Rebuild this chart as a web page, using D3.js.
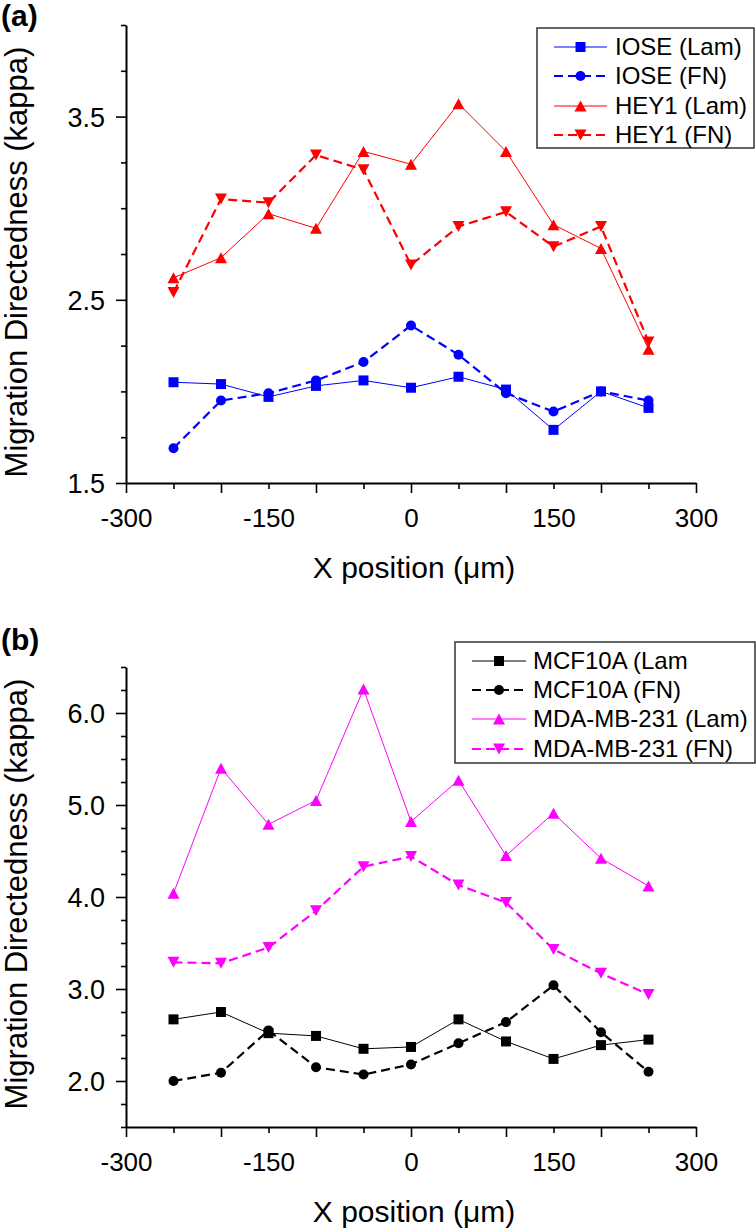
<!DOCTYPE html>
<html>
<head>
<meta charset="utf-8">
<script src="https://cdn.jsdelivr.net/npm/d3@7"></script>
<style>
  html, body { margin: 0; padding: 0; background: #fff; }
  svg { display: block; font-family: "Liberation Sans", Arial, Helvetica, sans-serif; }
</style>
</head>
<body>
<svg id="chart" width="756" height="1230"></svg>
<script>
// ---------- data ----------
const xPos = [-250, -200, -150, -100, -50, 0, 50, 100, 150, 200, 250];
const xTickValues = [-300, -250, -200, -150, -100, -50, 0, 50, 100, 150, 200, 250, 300];
const xTickLabels = [-300, -150, 0, 150, 300];

// panel (a)
const ioseLam = [2.05, 2.04, 1.97, 2.03, 2.06, 2.02, 2.08, 2.01, 1.79, 2.00, 1.91];
const ioseFN  = [1.69, 1.95, 1.99, 2.06, 2.16, 2.36, 2.20, 1.99, 1.89, 2.00, 1.95];
const hey1Lam = [2.62, 2.73, 2.97, 2.89, 3.31, 3.24, 3.57, 3.31, 2.91, 2.78, 2.23];
const hey1FN  = [2.54, 3.05, 3.03, 3.29, 3.21, 2.69, 2.90, 2.98, 2.79, 2.90, 2.27];
const aYLabels = [1.5, 2.5, 3.5];
const aSeriesNames = ["IOSE (Lam)", "IOSE (FN)", "HEY1 (Lam)", "HEY1 (FN)"];

// panel (b)
const mcfLam = [2.67, 2.75, 2.52, 2.49, 2.35, 2.37, 2.67, 2.43, 2.24, 2.39, 2.45];
const mcfFN  = [2.00, 2.09, 2.55, 2.15, 2.07, 2.18, 2.41, 2.64, 3.04, 2.53, 2.10];
const mdaLam = [4.04, 5.40, 4.79, 5.05, 6.26, 4.82, 5.27, 4.45, 4.91, 4.42, 4.12];
const mdaFN  = [3.29, 3.28, 3.45, 3.85, 4.33, 4.44, 4.13, 3.94, 3.43, 3.17, 2.94];
const bYLabels = [2.0, 3.0, 4.0, 5.0, 6.0];
const bSeriesNames = ["MCF10A (Lam", "MCF10A (FN)", "MDA-MB-231 (Lam)", "MDA-MB-231 (FN)"];

// ---------- drawing ----------
const svg = d3.select("#chart");
const FONT = '"Liberation Sans", Arial, Helvetica, sans-serif';

function markerPath(shape, s) {
  if (shape === "square") return `M${-s/2},${-s/2}h${s}v${s}h${-s}Z`;
  if (shape === "circle") { const r = s/2; return `M${-r},0a${r},${r} 0 1,0 ${2*r},0a${r},${r} 0 1,0 ${-2*r},0Z`; }
  const w = s * 1.2, h = s * 1.1;
  if (shape === "up") return `M0,${-h/2}L${w/2},${h/2}L${-w/2},${h/2}Z`;
  return `M0,${h/2}L${w/2},${-h/2}L${-w/2},${-h/2}Z`;
}

function drawPanel(cfg) {
  const x = d3.scaleLinear().domain([-300, 300]).range([126, 696]);
  const y = d3.scaleLinear().domain(cfg.yDomain).range([cfg.bottom, cfg.top]);
  const g = svg.append("g");

  // y axis
  const yTicks = d3.range(cfg.yDomain[0], cfg.yDomain[1] + 0.001, 0.25);
  const yAxis = d3.axisLeft(y).tickValues(yTicks).tickSizeOuter(0)
    .tickFormat(d => cfg.yLabels.some(v => Math.abs(v - d) < 1e-6) ? d3.format(".1f")(d) : "");
  const ya = g.append("g").attr("transform", `translate(126,0)`).call(yAxis);
  ya.select(".domain").attr("stroke", "#000").attr("stroke-width", 2);
  ya.selectAll(".tick line").attr("stroke", "#000").attr("stroke-width", 1.6)
    .attr("x2", d => cfg.yLabels.some(v => Math.abs(v - d) < 1e-6) ? -10 : -5);
  ya.selectAll(".tick text").attr("x", -21).attr("dy", "0.36em")
    .style("font-family", FONT).style("font-size", "27px").attr("fill", "#000");

  // x axis
  const xAxis = d3.axisBottom(x).tickValues(xTickValues).tickSizeOuter(0)
    .tickFormat(d => xTickLabels.includes(d) ? String(d) : "");
  const xa = g.append("g").attr("transform", `translate(0,${cfg.bottom})`).call(xAxis);
  xa.select(".domain").attr("stroke", "#000").attr("stroke-width", 2);
  xa.selectAll(".tick line").attr("stroke", "#000").attr("stroke-width", 1.6)
    .attr("y2", d => d % 100 === 0 ? 10 : 6);
  xa.selectAll(".tick text").attr("y", 44).attr("dy", null)
    .style("font-family", FONT).style("font-size", "26px").attr("fill", "#000");

  // axis titles
  g.append("text").attr("x", 414).attr("y", cfg.bottom + 95).attr("text-anchor", "middle")
    .style("font-family", FONT).style("font-size", "30px").text("X position (\u03bcm)");
  g.append("text").attr("transform", `translate(27,${cfg.yTitleCenter}) rotate(-90)`)
    .attr("text-anchor", "middle")
    .style("font-family", FONT).style("font-size", "31px").text("Migration Directedness (kappa)");

  // panel label
  g.append("text").attr("x", 1).attr("y", cfg.labelY)
    .style("font-family", FONT).style("font-size", "30px").style("font-weight", "bold").text(cfg.label);

  // series
  cfg.series.forEach(s => {
    const line = d3.line().x((d, i) => x(xPos[i])).y(d => y(d));
    g.append("path").datum(s.values).attr("d", line).attr("fill", "none")
      .attr("stroke", s.color).attr("stroke-width", s.dashed ? 2.2 : 1)
      .attr("stroke-dasharray", s.dashed ? "9,5" : null);
    g.append("g").selectAll("path").data(s.values).join("path")
      .attr("transform", (d, i) => `translate(${x(xPos[i])},${y(d)})`)
      .attr("d", markerPath(s.shape, 10)).attr("fill", s.color);
  });

  // legend
  const L = cfg.legend;
  const lg = g.append("g");
  lg.append("rect").attr("x", L.x0).attr("y", L.y0).attr("width", L.x1 - L.x0).attr("height", L.y1 - L.y0)
    .attr("fill", "#fff").attr("stroke", "#333").attr("stroke-width", 1.5);
  cfg.series.forEach((s, i) => {
    const cy = L.rows[i];
    lg.append("line").attr("x1", L.lx0).attr("x2", L.lx1).attr("y1", cy).attr("y2", cy)
      .attr("stroke", s.color).attr("stroke-width", s.dashed ? 2.2 : 1)
      .attr("stroke-dasharray", s.dashed ? "9,5" : null);
    lg.append("path").attr("transform", `translate(${(L.lx0 + L.lx1) / 2},${cy})`)
      .attr("d", markerPath(s.shape, 10)).attr("fill", s.color);
    lg.append("text").attr("x", L.tx).attr("y", cy + 8)
      .style("font-family", FONT).style("font-size", "24px").text(s.name);
  });
}

drawPanel({
  yDomain: [1.5, 4.0], top: 25, bottom: 483, yLabels: aYLabels, yTitleCenter: 262,
  label: "(a)", labelY: 26,
  series: [
    { name: aSeriesNames[0], values: ioseLam, color: "#0000ff", dashed: false, shape: "square" },
    { name: aSeriesNames[1], values: ioseFN,  color: "#0000ff", dashed: true,  shape: "circle" },
    { name: aSeriesNames[2], values: hey1Lam, color: "#ff0000", dashed: false, shape: "up" },
    { name: aSeriesNames[3], values: hey1FN,  color: "#ff0000", dashed: true,  shape: "down" }
  ],
  legend: { x0: 537, x1: 754, y0: 28, y1: 148, lx0: 554, lx1: 607, tx: 615, rows: [47, 76, 106, 135] }
});

drawPanel({
  yDomain: [1.5, 6.5], top: 667, bottom: 1127, yLabels: bYLabels, yTitleCenter: 894,
  label: "(b)", labelY: 650,
  series: [
    { name: bSeriesNames[0], values: mcfLam, color: "#000000", dashed: false, shape: "square" },
    { name: bSeriesNames[1], values: mcfFN,  color: "#000000", dashed: true,  shape: "circle" },
    { name: bSeriesNames[2], values: mdaLam, color: "#ff00ff", dashed: false, shape: "up" },
    { name: bSeriesNames[3], values: mdaFN,  color: "#ff00ff", dashed: true,  shape: "down" }
  ],
  legend: { x0: 455, x1: 755, y0: 642, y1: 763, lx0: 472, lx1: 526, tx: 533, rows: [661, 690, 719, 749] }
});
</script>
</body>
</html>
